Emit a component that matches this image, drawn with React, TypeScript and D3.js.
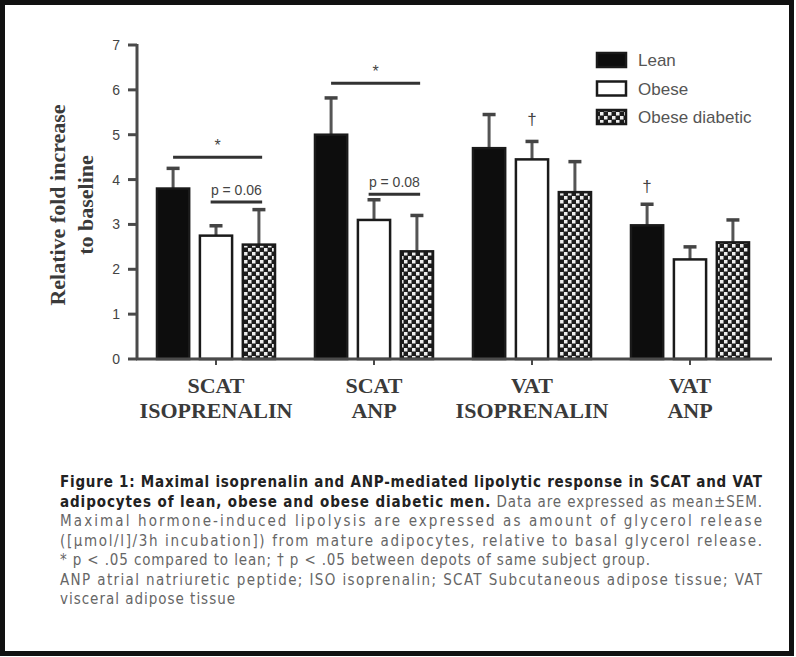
import * as d3 from "d3";
import React from "react";

// groups along the x axis (two-line labels)
const groups = ["SCAT ISOPRENALIN", "SCAT ANP", "VAT ISOPRENALIN", "VAT ANP"];
const groupLabels = [
  ["SCAT", "ISOPRENALIN"],
  ["SCAT", "ANP"],
  ["VAT", "ISOPRENALIN"],
  ["VAT", "ANP"]
];
const series = ["Lean", "Obese", "Obese diabetic"];

// mean and SEM
const leanMean = [3.8, 5.0, 4.7, 2.98];
const leanSem = [0.45, 0.82, 0.75, 0.47];
const obeseMean = [2.75, 3.1, 4.45, 2.22];
const obeseSem = [0.22, 0.45, 0.4, 0.28];
const diabMean = [2.55, 2.4, 3.72, 2.6];
const diabSem = [0.78, 0.8, 0.68, 0.5];

const yTicks = [0, 1, 2, 3, 4, 5, 6, 7];

// significance brackets: group, first bar, last bar, level, label
const brackets = [
  { g: 0, from: 0, to: 2, y: 4.5, label: "*" },
  { g: 0, from: 1, to: 2, y: 3.5, label: "p = 0.06" },
  { g: 1, from: 0, to: 2, y: 6.15, label: "*" },
  { g: 1, from: 1, to: 2, y: 3.67, label: "p = 0.08" }
];
// daggers: group, bar, level
const daggers = [
  { g: 2, s: 1, y: 5.35 },
  { g: 3, s: 0, y: 3.85 }
];

const captionBold1 =
  "Figure 1: Maximal isoprenalin and ANP-mediated lipolytic response in SCAT and VAT";
const captionBold2 = "adipocytes of lean, obese and obese diabetic men.";
const captionLines = [
  " Data are expressed as mean±SEM.",
  "Maximal hormone-induced lipolysis are expressed as amount of glycerol release",
  "([µmol/l]/3h incubation]) from mature adipocytes, relative to basal glycerol release.",
  "* p < .05 compared to lean; † p < .05 between depots of same subject group.",
  "ANP atrial natriuretic peptide; ISO isoprenalin; SCAT Subcutaneous adipose tissue; VAT",
  "visceral adipose tissue"
];
const captionWidths = [702, 702, 590, 702, 175];

const W = 796;
const H = 657;

export default function App() {
  const x0 = d3.scaleBand().domain(groups).range([137, 769]).paddingInner(0.253).paddingOuter(0.1265);
  const x1 = d3.scaleBand().domain(series).range([0, x0.bandwidth()]).paddingInner(0.25);
  const y = d3.scaleLinear().domain([0, 7]).range([359, 45]);

  const means = [leanMean, obeseMean, diabMean];
  const sems = [leanSem, obeseSem, diabSem];
  const fills = ["#0d0d0d", "#fff", "url(#checker)"];

  const barX = (g: number, s: number) => (x0(groups[g]) as number) + (x1(series[s]) as number);
  const bw = x1.bandwidth();

  const capW = 13;
  const axisColor = "#4a4a4a";
  const serif = "'Liberation Serif', 'DejaVu Serif', serif";
  const sans = "'Liberation Sans', Arial, sans-serif";
  const narrow = "'Liberation Sans Narrow', 'DejaVu Sans Condensed', 'Liberation Sans', sans-serif";

  return (
    <svg width={W} height={H} style={{ position: "absolute", left: 0, top: 0, background: "#fff" }}>
      <defs>
        <pattern id="checker" width="8" height="8" patternUnits="userSpaceOnUse">
          <rect width="8" height="8" fill="#1c1c1c" />
          <rect x="0" y="0" width="3.5" height="3.5" fill="#eee" />
          <rect x="4" y="4" width="3.5" height="3.5" fill="#eee" />
        </pattern>
      </defs>
      <rect x={2.5} y={2.5} width={W - 7} height={H - 6} fill="#fff" stroke="#111" strokeWidth={5} />

      {/* bars and error bars */}
      {groups.map((gname, g) =>
        series.map((sname, s) => {
          const bx = barX(g, s);
          const m = means[s][g];
          const top = y(m);
          const errTop = y(m + sems[s][g]);
          const cx = bx + bw / 2;
          return (
            <g key={gname + sname}>
              <line x1={cx} x2={cx} y1={top} y2={errTop} stroke="#555" strokeWidth={3} />
              <line x1={cx - capW / 2} x2={cx + capW / 2} y1={errTop} y2={errTop} stroke="#444" strokeWidth={3.5} />
              <rect x={bx} y={top} width={bw} height={y(0) - top} fill={fills[s]} stroke="#1a1a1a" strokeWidth={2.5} />
            </g>
          );
        })
      )}

      {/* y axis */}
      <line x1={137} x2={137} y1={y(7) - 1} y2={y(0) + 1} stroke={axisColor} strokeWidth={3} />
      {yTicks.map(t => (
        <g key={t}>
          <line x1={128} x2={137} y1={y(t)} y2={y(t)} stroke={axisColor} strokeWidth={3} />
          <text x={120} y={y(t) + 5} textAnchor="end" fontSize={14} fontFamily={sans} fill="#444">
            {t}
          </text>
        </g>
      ))}
      {/* x axis */}
      <line x1={136} x2={772} y1={y(0)} y2={y(0)} stroke={axisColor} strokeWidth={3} />
      {groups.map(gname => {
        const cx = (x0(gname) as number) + x0.bandwidth() / 2;
        return <line key={gname} x1={cx} x2={cx} y1={y(0)} y2={y(0) + 6} stroke={axisColor} strokeWidth={2} />;
      })}
      {groupLabels.map((lines, g) => {
        const cx = (x0(groups[g]) as number) + x0.bandwidth() / 2;
        return (
          <text key={g} textAnchor="middle" fontFamily={serif} fontWeight="bold" fontSize={22} fill="#3a3a3a">
            <tspan x={cx} y={393}>{lines[0]}</tspan>
            <tspan x={cx} y={418}>{lines[1]}</tspan>
          </text>
        );
      })}

      {/* y axis title */}
      <text
        transform={`translate(65,205) rotate(-90)`}
        textAnchor="middle"
        fontFamily={serif}
        fontWeight="bold"
        fontSize={22}
        fill="#3a3a3a"
      >
        <tspan x={0} y={0}>Relative fold increase</tspan>
        <tspan x={0} y={28}>to baseline</tspan>
      </text>

      {/* significance */}
      {brackets.map((b, i) => {
        const xa = barX(b.g, b.from) + (b.from === 0 ? bw / 2 : bw / 3);
        const xb = barX(b.g, b.to) + bw * 0.6;
        const yy = y(b.y);
        const star = b.label === "*";
        return (
          <g key={i}>
            <line x1={xa} x2={xb} y1={yy} y2={yy} stroke="#333" strokeWidth={3} />
            <text
              x={(xa + xb) / 2}
              y={star ? yy - 6 : yy - 7}
              textAnchor="middle"
              fontFamily={sans}
              fontSize={star ? 16 : 14}
              fill="#444"
            >
              {b.label}
            </text>
          </g>
        );
      })}
      {daggers.map((d, i) => (
        <text
          key={i}
          x={barX(d.g, d.s) + bw / 2}
          y={y(d.y) + 6}
          textAnchor="middle"
          fontFamily={sans}
          fontSize={17}
          fill="#444"
        >
          †
        </text>
      ))}

      {/* legend */}
      {series.map((sname, s) => {
        const ly = 60 + s * 28.5;
        return (
          <g key={sname}>
            <rect x={597} y={ly - 7} width={29} height={14} fill={fills[s]} stroke="#1a1a1a" strokeWidth={2.5} />
            <text x={638} y={ly + 6} fontFamily={sans} fontSize={17} fill="#555">
              {sname}
            </text>
          </g>
        );
      })}

      {/* caption */}
      <text x={60} y={487} fontFamily={narrow} fontSize={15} fontWeight="bold" fill="#222" textLength={702} lengthAdjust="spacing">
        {captionBold1}
      </text>
      <text x={60} y={506.5} fontFamily={narrow} fontSize={15} fill="#666" textLength={702} lengthAdjust="spacing">
        <tspan fontWeight="bold" fill="#222">{captionBold2}</tspan>
        <tspan>{captionLines[0]}</tspan>
      </text>
      {captionLines.slice(1).map((line, i) => (
        <text
          key={i}
          x={60}
          y={526 + i * 19.5}
          fontFamily={narrow}
          fontSize={15}
          fill="#666"
          textLength={captionWidths[i]}
          lengthAdjust="spacing"
        >
          {line}
        </text>
      ))}
    </svg>
  );
}
